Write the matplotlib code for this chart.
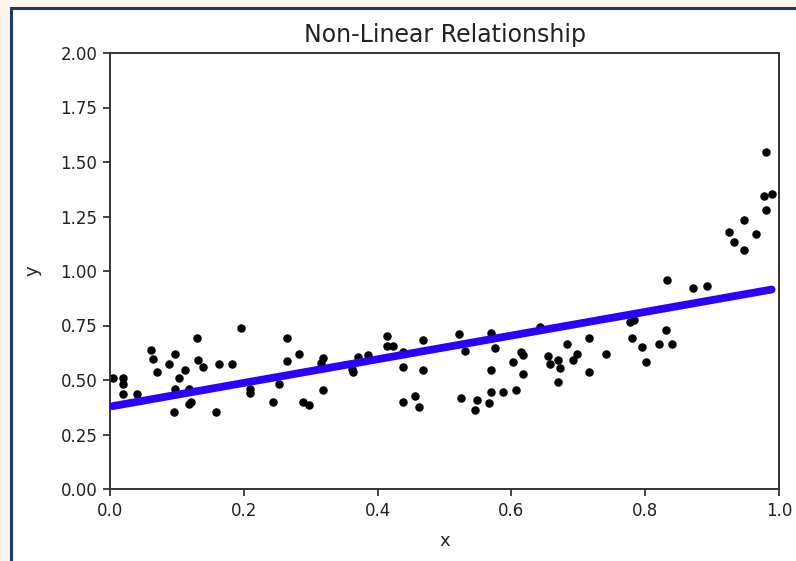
import matplotlib
matplotlib.use("Agg")
import matplotlib.pyplot as plt
import numpy as np
from matplotlib.patches import Rectangle

x = [0.004, 0.019, 0.019, 0.019, 0.040, 0.061, 0.064, 0.071, 0.088, 0.097,
     0.112, 0.103, 0.097, 0.118, 0.095, 0.118, 0.121, 0.130, 0.132, 0.139,
     0.159, 0.163, 0.183, 0.196, 0.210, 0.210, 0.244, 0.253, 0.265, 0.265,
     0.283, 0.288, 0.298, 0.319, 0.315, 0.319, 0.361, 0.363, 0.370, 0.385,
     0.414, 0.414, 0.423, 0.438, 0.438, 0.438, 0.456, 0.462, 0.468, 0.468,
     0.522, 0.531, 0.569, 0.576, 0.525, 0.549, 0.546, 0.567, 0.569, 0.569,
     0.588, 0.607, 0.603, 0.615, 0.618, 0.618, 0.643, 0.654, 0.657, 0.669,
     0.672, 0.669, 0.683, 0.698, 0.692, 0.716, 0.716, 0.741, 0.833, 0.872,
     0.893, 0.777, 0.783, 0.780, 0.795, 0.801, 0.821, 0.831, 0.840, 0.980,
     0.977, 0.989, 0.980, 0.948, 0.926, 0.933, 0.965, 0.948]
y = [0.508, 0.508, 0.480, 0.435, 0.435, 0.638, 0.598, 0.537, 0.573, 0.619,
     0.546, 0.508, 0.460, 0.460, 0.353, 0.388, 0.398, 0.691, 0.592, 0.561,
     0.353, 0.573, 0.573, 0.737, 0.459, 0.439, 0.398, 0.480, 0.691, 0.589,
     0.619, 0.400, 0.385, 0.602, 0.577, 0.454, 0.549, 0.538, 0.607, 0.615,
     0.702, 0.656, 0.656, 0.630, 0.561, 0.398, 0.427, 0.378, 0.683, 0.546,
     0.711, 0.634, 0.714, 0.645, 0.416, 0.408, 0.362, 0.396, 0.446, 0.546,
     0.446, 0.454, 0.581, 0.630, 0.615, 0.528, 0.744, 0.610, 0.573, 0.592,
     0.553, 0.492, 0.665, 0.619, 0.592, 0.691, 0.538, 0.619, 0.959, 0.920,
     0.931, 0.767, 0.775, 0.691, 0.653, 0.581, 0.665, 0.729, 0.665, 1.546,
     1.344, 1.353, 1.280, 1.234, 1.180, 1.133, 1.170, 1.096]

fit_intercept = 0.378
fit_slope = 0.543

xticks = [0.0, 0.2, 0.4, 0.6, 0.8, 1.0]
yticks = [0.00, 0.25, 0.50, 0.75, 1.00, 1.25, 1.50, 1.75, 2.00]

W, H = 796, 561
fig = plt.figure(figsize=(W / 100, H / 100), dpi=100)
fig.patch.set_facecolor("#fdf6ec")
frame = Rectangle((11 / W, -0.01), 1.1, 1 - 7.5 / H + 0.01,
                  transform=fig.transFigure, facecolor="white",
                  edgecolor="#1b3a78", linewidth=2.2, zorder=-10)
fig.patches.append(frame)

ax = fig.add_axes([110 / W, 1 - 489 / H, (779 - 110) / W, (489 - 53) / H])
ax.set_zorder(5)
ax.set_facecolor("white")

ax.scatter(x, y, s=26, color="black", zorder=2)
xs = np.array(sorted(x))
ax.plot(xs, fit_intercept + fit_slope * xs, color="#2a00ff", linewidth=5.6,
        zorder=3, solid_capstyle="round")

ax.set_xlim(0, 1)
ax.set_ylim(0, 2)
ax.set_xticks(xticks)
ax.set_xticklabels([f"{t:.1f}" for t in xticks])
ax.set_yticks(yticks)
ax.set_yticklabels([f"{t:.2f}" for t in yticks])
ax.tick_params(labelsize=12, length=5, width=1.2, colors="#222222", pad=4)
for s in ax.spines.values():
    s.set_linewidth(1.4)
    s.set_color("#333333")
ax.set_title("Non-Linear Relationship", fontsize=17, color="#222222", pad=8)
ax.set_xlabel("x", fontsize=13, color="#222222", labelpad=9)
ax.set_ylabel("y", fontsize=13, color="#222222", labelpad=14)

fig.savefig("out.png", dpi=100, facecolor=fig.get_facecolor())
